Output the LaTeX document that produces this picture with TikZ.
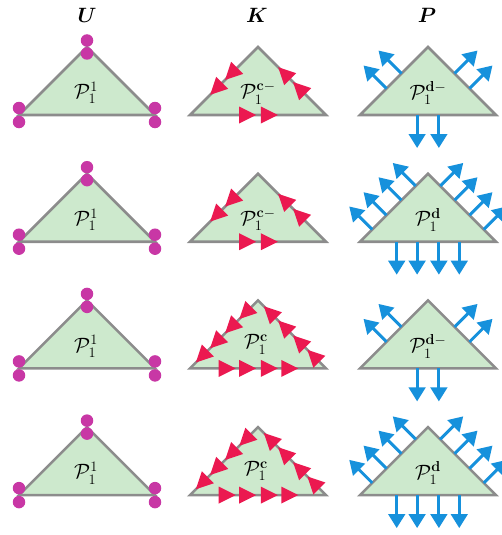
\documentclass[tikz,border=0pt]{standalone}
\usepackage{amsmath}
\usetikzlibrary{calc,arrows.meta}
\definecolor{trigreen}{RGB}{205,233,205}
\definecolor{trigray}{RGB}{140,140,140}
\definecolor{dotmag}{RGB}{200,55,165}
\definecolor{kred}{RGB}{235,25,80}
\definecolor{arrblue}{RGB}{22,145,220}
\begin{document}
\begin{tikzpicture}[x=1pt,y=-1pt,
  tri/.style={fill=trigreen, draw=trigray, line width=2.6pt, line join=miter},
  dot/.style={circle, fill=dotmag, inner sep=0pt, minimum size=12.5pt},
  parr/.style={draw=arrblue, line width=3pt, -{Triangle[length=14pt,width=16.5pt]}},
  lab/.style={inner sep=0pt, font=\fontsize{22}{24}\selectfont},
  ttl/.style={inner sep=0pt, font=\fontsize{20}{22}\selectfont},
  karr/.pic={\fill[kred] (9,0) -- (-8,-8.5) -- (-8,8.5) -- cycle;}]
\useasboundingbox (0,0) rectangle (502,535);
% titles
\node[ttl] (tU) at (87,15) {$\boldsymbol{U}$};
\node[ttl] (tK) at (257,15) {$\boldsymbol{K}$};
\node[ttl] (tP) at (427,15) {$\boldsymbol{P}$};
\foreach \r in {0,1,2,3} {
  \pgfmathsetmacro\yb{115+126.7*\r}
  \pgfmathsetmacro\ya{\yb-68}
  \foreach \c/\xl in {u/19, k/190, p/360} {
    \coordinate (\c\r-l) at (\xl,\yb);
    \coordinate (\c\r-r) at (\xl+136,\yb);
    \coordinate (\c\r-t) at (\xl+68,\ya);
    \draw[tri] (\c\r-l) -- (\c\r-t) -- (\c\r-r) -- cycle;
  }
  % U column: dots and label
  \node[lab] (lu\r) at ($(u\r-l)+(67,-22)$) {$\mathcal{P}_1^1$};
  \node[dot] (du\r a) at ($(u\r-t)+(0,-6.5)$) {};
  \node[dot] (du\r b) at ($(u\r-t)+(0,6.5)$) {};
  \node[dot] (du\r c) at ($(u\r-l)+(0,-7)$) {};
  \node[dot] (du\r d) at ($(u\r-l)+(0,7)$) {};
  \node[dot] (du\r e) at ($(u\r-r)+(0,-7)$) {};
  \node[dot] (du\r f) at ($(u\r-r)+(0,7)$) {};
}
% K column labels
\node[lab] (lk0) at ($(k0-l)+(68,-22)$) {$\mathcal{P}_1^{\mathbf{c}-}$};
\node[lab] (lk1) at ($(k1-l)+(68,-22)$) {$\mathcal{P}_1^{\mathbf{c}-}$};
\node[lab] (lk2) at ($(k2-l)+(66,-24)$) {$\mathcal{P}_1^{\mathbf{c}}$};
\node[lab] (lk3) at ($(k3-l)+(66,-24)$) {$\mathcal{P}_1^{\mathbf{c}}$};
% P column labels
\node[lab] (lp0) at ($(p0-l)+(68,-22)$) {$\mathcal{P}_1^{\mathbf{d}-}$};
\node[lab] (lp1) at ($(p1-l)+(68,-22)$) {$\mathcal{P}_1^{\mathbf{d}}$};
\node[lab] (lp2) at ($(p2-l)+(68,-22)$) {$\mathcal{P}_1^{\mathbf{d}-}$};
\node[lab] (lp3) at ($(p3-l)+(68,-22)$) {$\mathcal{P}_1^{\mathbf{d}}$};
% K arrowheads (counter-clockwise circulation)
\foreach \r/\sp/\bp in {0/{0.39,0.61}/{0.42,0.58}, 1/{0.39,0.61}/{0.42,0.58},
                        2/{0.18,0.39,0.61,0.82}/{0.27,0.42,0.58,0.73},
                        3/{0.18,0.39,0.61,0.82}/{0.27,0.42,0.58,0.73}} {
  \foreach \q in \sp {
    \pic[rotate=225] at ($(k\r-t)!\q!(k\r-l)$) {karr};
    \pic[rotate=135] at ($(k\r-r)!\q!(k\r-t)$) {karr};
  }
  \foreach \q in \bp {
    \pic at ($(k\r-l)!\q!(k\r-r)$) {karr};
  }
}
% P arrows (outward normals)
\foreach \r/\sp/\bp in {0/{0.39,0.61}/{0.42,0.58}, 1/{0.18,0.39,0.61,0.82}/{0.27,0.42,0.58,0.73},
                        2/{0.39,0.61}/{0.42,0.58}, 3/{0.18,0.39,0.61,0.82}/{0.27,0.42,0.58,0.73}} {
  \foreach \q in \sp {
    \draw[parr] ($(p\r-l)!\q!(p\r-t)$) -- ++(-23,-23);
    \draw[parr] ($(p\r-r)!\q!(p\r-t)$) -- ++(23,-23);
  }
  \foreach \q in \bp {
    \draw[parr] ($(p\r-l)!\q!(p\r-r)$) -- ++(0,33);
  }
}
\end{tikzpicture}
\end{document}
